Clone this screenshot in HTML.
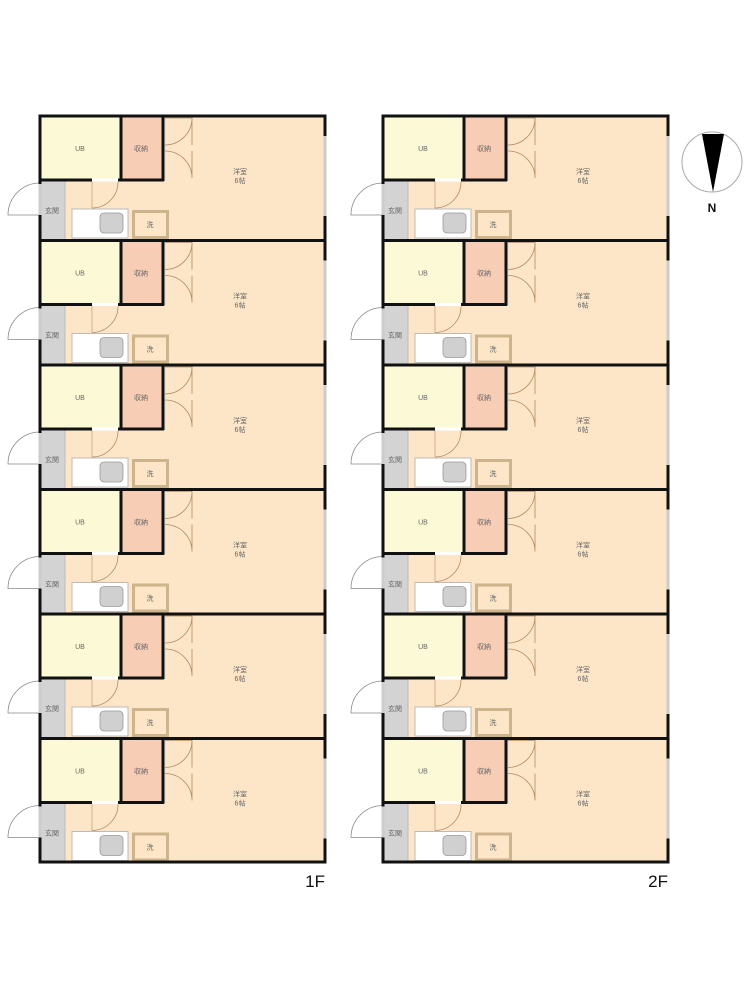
<!DOCTYPE html>
<html><head><meta charset="utf-8"><style>
html,body{margin:0;padding:0;background:#fff;}
svg{display:block}
text{font-family:"Liberation Sans","Noto Sans CJK JP",sans-serif;}
.t{font-size:7px;fill:#666;text-anchor:middle}
</style></head><body>
<svg width="750" height="1000" viewBox="0 0 750 1000" xmlns="http://www.w3.org/2000/svg">
<defs>
<g id="u">
 <rect x="0" y="0" width="285" height="124.5" fill="#fde6c8"/>
 <rect x="0" y="0" width="81" height="64" fill="#fcfad6"/>
 <rect x="81" y="0" width="41" height="64" fill="#f8cdb6"/>
 <rect x="0" y="64" width="25" height="60.5" fill="#d3d3d3"/>
 <line x1="25" y1="64" x2="25" y2="124" stroke="#bbb" stroke-width="1"/>
 <line x1="52" y1="64" x2="52" y2="92" stroke="#c9a27a" stroke-width="0.8"/>
 <rect x="32" y="93" width="56" height="29" fill="#fff" stroke="#bbb" stroke-width="1"/>
 <rect x="60" y="97" width="23" height="20" rx="4" fill="#d0d0d0" stroke="#999" stroke-width="0.8"/>
 <rect x="93.5" y="95.5" width="34" height="26" fill="none" stroke="#cdb48d" stroke-width="3"/>
 <!-- closet strip -->
 <rect x="122" y="0" width="3" height="64" fill="#fff" stroke="#ccc" stroke-width="0.5"/>
 <!-- closet doors -->
 <path d="M125 2 H152 A27 27 0 0 1 125 29" fill="none" stroke="#b58a60" stroke-width="0.8"/>
 <path d="M152 2 V29" fill="none" stroke="#b58a60" stroke-width="0.8"/>
 <path d="M125 35 A27 27 0 0 1 152 62 V35" fill="none" stroke="#b58a60" stroke-width="0.8"/>
 <!-- hall door -->
 <path d="M52 92 A26 26 0 0 0 78 66" fill="none" stroke="#b58a60" stroke-width="0.8"/>
 <line x1="52" y1="64" x2="78" y2="64" stroke="#fff" stroke-width="3"/>
 <!-- entry door -->
 <path d="M0 99 H-32 A32 32 0 0 1 0 67" fill="none" stroke="#888" stroke-width="0.8"/>
 <line x1="0" y1="68" x2="0" y2="99" stroke="#ccc" stroke-width="3"/>
 <!-- walls -->
 <path d="M81 0 V65 M0 64 H52 M78 64 H124 M123 0 V65" stroke="#111" stroke-width="3" fill="none"/>
 <path d="M0 0 V68 M0 99 V125" stroke="#111" stroke-width="3" fill="none"/>
 <path d="M285 0 V20 M285 100 V125" stroke="#111" stroke-width="3" fill="none"/>
 <line x1="285" y1="20" x2="285" y2="100" stroke="#ccc" stroke-width="3"/>
 <line x1="-1.5" y1="0" x2="286.5" y2="0" stroke="#111" stroke-width="3"/>
</g>
</defs>

<g transform="translate(40,116)">
 <use href="#u" y="0"/><use href="#u" y="124.5"/><use href="#u" y="249"/><use href="#u" y="373.5"/><use href="#u" y="498"/><use href="#u" y="622.5"/>
 <line x1="-1.5" y1="746" x2="286.5" y2="746" stroke="#111" stroke-width="3"/>
</g>
<g transform="translate(383,116)">
 <use href="#u" y="0"/><use href="#u" y="124.5"/><use href="#u" y="249"/><use href="#u" y="373.5"/><use href="#u" y="498"/><use href="#u" y="622.5"/>
 <line x1="-1.5" y1="746" x2="286.5" y2="746" stroke="#111" stroke-width="3"/>
</g>

<!-- 1F labels -->
<g transform="translate(40,116)"><text class="t" x="40" y="35">UB</text><text class="t" x="101" y="35">収納</text><text class="t" x="200" y="58">洋室</text><text class="t" x="200" y="67">6帖</text><text class="t" x="12" y="97">玄関</text><text class="t" x="110" y="111">洗</text></g>
<g transform="translate(40,240.5)"><text class="t" x="40" y="35">UB</text><text class="t" x="101" y="35">収納</text><text class="t" x="200" y="58">洋室</text><text class="t" x="200" y="67">6帖</text><text class="t" x="12" y="97">玄関</text><text class="t" x="110" y="111">洗</text></g>
<g transform="translate(40,365)"><text class="t" x="40" y="35">UB</text><text class="t" x="101" y="35">収納</text><text class="t" x="200" y="58">洋室</text><text class="t" x="200" y="67">6帖</text><text class="t" x="12" y="97">玄関</text><text class="t" x="110" y="111">洗</text></g>
<g transform="translate(40,489.5)"><text class="t" x="40" y="35">UB</text><text class="t" x="101" y="35">収納</text><text class="t" x="200" y="58">洋室</text><text class="t" x="200" y="67">6帖</text><text class="t" x="12" y="97">玄関</text><text class="t" x="110" y="111">洗</text></g>
<g transform="translate(40,614)"><text class="t" x="40" y="35">UB</text><text class="t" x="101" y="35">収納</text><text class="t" x="200" y="58">洋室</text><text class="t" x="200" y="67">6帖</text><text class="t" x="12" y="97">玄関</text><text class="t" x="110" y="111">洗</text></g>
<g transform="translate(40,738.5)"><text class="t" x="40" y="35">UB</text><text class="t" x="101" y="35">収納</text><text class="t" x="200" y="58">洋室</text><text class="t" x="200" y="67">6帖</text><text class="t" x="12" y="97">玄関</text><text class="t" x="110" y="111">洗</text></g>
<!-- 2F labels -->
<g transform="translate(383,116)"><text class="t" x="40" y="35">UB</text><text class="t" x="101" y="35">収納</text><text class="t" x="200" y="58">洋室</text><text class="t" x="200" y="67">6帖</text><text class="t" x="12" y="97">玄関</text><text class="t" x="110" y="111">洗</text></g>
<g transform="translate(383,240.5)"><text class="t" x="40" y="35">UB</text><text class="t" x="101" y="35">収納</text><text class="t" x="200" y="58">洋室</text><text class="t" x="200" y="67">6帖</text><text class="t" x="12" y="97">玄関</text><text class="t" x="110" y="111">洗</text></g>
<g transform="translate(383,365)"><text class="t" x="40" y="35">UB</text><text class="t" x="101" y="35">収納</text><text class="t" x="200" y="58">洋室</text><text class="t" x="200" y="67">6帖</text><text class="t" x="12" y="97">玄関</text><text class="t" x="110" y="111">洗</text></g>
<g transform="translate(383,489.5)"><text class="t" x="40" y="35">UB</text><text class="t" x="101" y="35">収納</text><text class="t" x="200" y="58">洋室</text><text class="t" x="200" y="67">6帖</text><text class="t" x="12" y="97">玄関</text><text class="t" x="110" y="111">洗</text></g>
<g transform="translate(383,614)"><text class="t" x="40" y="35">UB</text><text class="t" x="101" y="35">収納</text><text class="t" x="200" y="58">洋室</text><text class="t" x="200" y="67">6帖</text><text class="t" x="12" y="97">玄関</text><text class="t" x="110" y="111">洗</text></g>
<g transform="translate(383,738.5)"><text class="t" x="40" y="35">UB</text><text class="t" x="101" y="35">収納</text><text class="t" x="200" y="58">洋室</text><text class="t" x="200" y="67">6帖</text><text class="t" x="12" y="97">玄関</text><text class="t" x="110" y="111">洗</text></g>

<text x="325" y="887" font-size="17" text-anchor="end" fill="#111">1F</text>
<text x="668" y="887" font-size="17" text-anchor="end" fill="#111">2F</text>

<!-- compass -->
<circle cx="712" cy="162" r="30" fill="#fff" stroke="#aaa" stroke-width="1"/>
<polygon points="702,134 724,134 713,192" fill="#000"/>
<text x="712" y="212" font-size="12" font-weight="bold" text-anchor="middle" fill="#111">N</text>
</svg>
</body></html>
